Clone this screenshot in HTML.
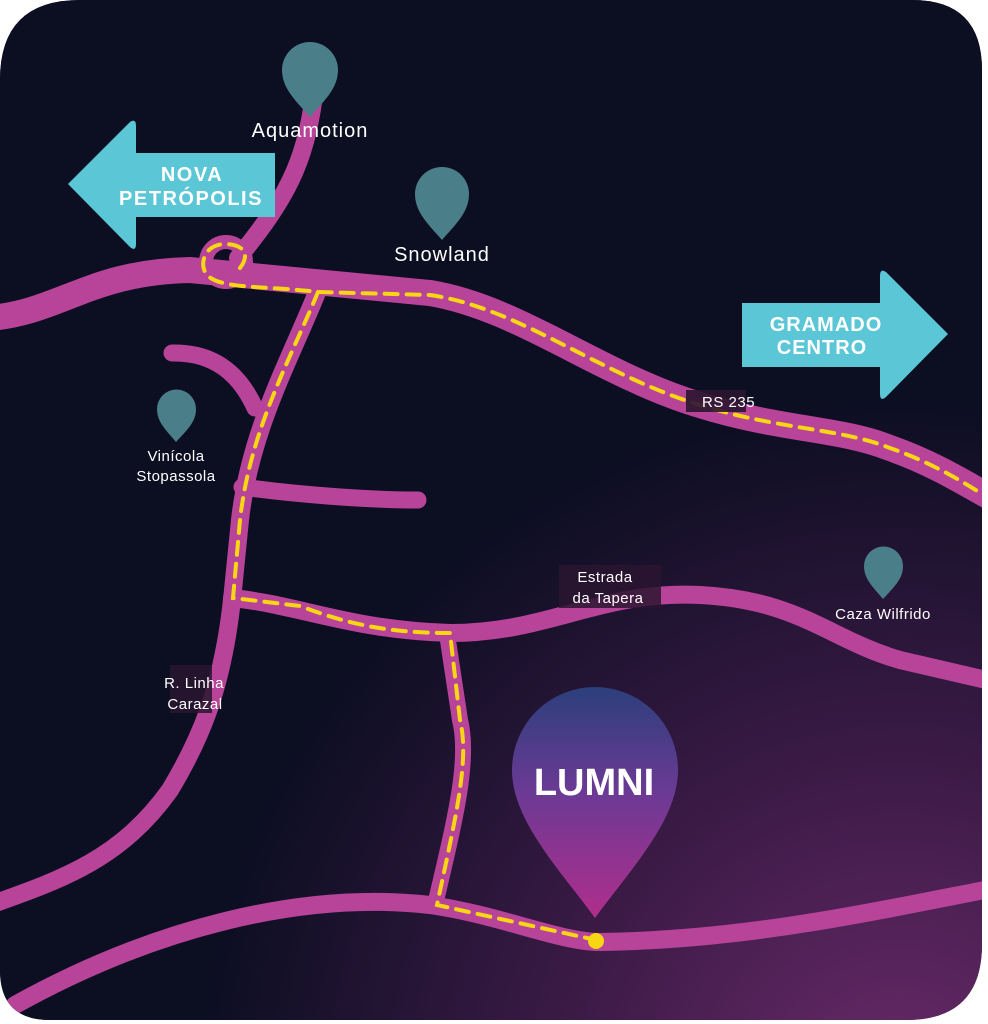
<!DOCTYPE html>
<html><head><meta charset="utf-8"><style>
html,body{margin:0;padding:0;background:#fff;}
svg{display:block;}
text{font-family:"Liberation Sans",sans-serif;}
</style></head><body>
<svg width="988" height="1024" viewBox="0 0 988 1024" xmlns="http://www.w3.org/2000/svg">
<defs>
<clipPath id="card"><path d="M80,0 H912 Q982,0 982,70 V944 Q982,1020 906,1020 H50 Q0,1020 0,970 V80 Q0,0 80,0 Z"/></clipPath>
<radialGradient id="bg" cx="900" cy="1100" r="700" gradientUnits="userSpaceOnUse">
<stop offset="0" stop-color="#6a2a6a"/><stop offset="0.5" stop-color="#3a1a45"/><stop offset="1" stop-color="#0c0e22"/>
</radialGradient>
<linearGradient id="lp" x1="0" y1="0" x2="0" y2="1">
<stop offset="0" stop-color="#2c3f7c"/><stop offset="0.45" stop-color="#6a3a94"/><stop offset="1" stop-color="#b02e8c"/>
</linearGradient>
</defs>
<g clip-path="url(#card)">
<rect width="988" height="1024" fill="#0c0e22"/>
<rect width="988" height="1024" fill="url(#bg)"/>
<g fill="none" stroke="#b8449a" stroke-linecap="round">
<path d="M-10,318 C60,312 90,272 190,270 L430,293 C520,308 600,375 700,405 C780,430 840,428 890,448 C930,462 960,480 995,500" stroke-width="26"/>
<path d="M314,95 C305,165 285,200 238,258" stroke-width="18"/>
<circle cx="226" cy="262" r="20" stroke-width="14"/>
<path d="M318,290 C290,360 250,430 240,520 L232,600 C222,690 200,740 170,790 C120,860 60,880 -10,905" stroke-width="18"/>
<path d="M172,353 C215,352 240,375 255,408" stroke-width="17"/>
<path d="M242,487 C300,495 370,500 418,500" stroke-width="17"/>
<path d="M232,598 C300,605 350,630 450,633 C550,633 600,590 700,595 C800,600 830,640 900,660 L995,682" stroke-width="18"/>
<path d="M447,634 L460,720 C470,760 455,820 435,905" stroke-width="16"/>
<path d="M15,1005 C150,930 300,890 430,905 C500,915 560,942 600,942 C750,940 880,910 995,888" stroke-width="18"/>
</g>
<g fill="none" stroke="#f7d614" stroke-width="4" stroke-dasharray="13 9" stroke-linecap="round">
<path d="M240,268 C250,255 245,245 226,244 C205,244 200,262 205,272 C215,290 260,285 318,292 L430,295 C520,308 600,375 700,405 C780,430 840,428 890,448 C930,462 960,480 982,494"/>
<path d="M318,292 C290,360 250,430 240,520 L233,598 L300,606 C350,625 390,633 450,633 L460,720 C470,760 455,820 437,905 L596,940"/>
</g>
<circle cx="596" cy="941" r="8" fill="#f7d614"/>
<rect x="686" y="390" width="60" height="22" fill="#2a1530" opacity="0.9"/>
<text x="702" y="407" fill="#fff" font-size="15" letter-spacing="0.5">RS 235</text>
<rect x="559" y="565" width="102" height="43" fill="#2a1530" opacity="0.85"/>
<text x="605" y="582" fill="#fff" font-size="15" letter-spacing="0.5" text-anchor="middle">Estrada</text>
<text x="608" y="603" fill="#fff" font-size="15" letter-spacing="0.5" text-anchor="middle">da Tapera</text>
<rect x="170" y="665" width="42" height="48" fill="#2a1530" opacity="0.85"/>
<text x="194" y="688" fill="#fff" font-size="15" letter-spacing="0.5" text-anchor="middle">R. Linha</text>
<text x="195" y="709" fill="#fff" font-size="15" letter-spacing="0.5" text-anchor="middle">Carazal</text>
<g fill="#4a7f8a">
<path d="M310,117 C295,100 282,88 282,70 A28,28 0 0 1 338,70 C338,88 325,100 310,117 Z"/>
<path d="M442,240 C428,224 415,212 415,194 A27,27 0 0 1 469,194 C469,212 456,224 442,240 Z"/>
<path d="M176,442 C166,430 157,422 157,409 A19.5,19.5 0 0 1 196,409 C196,422 187,430 176,442 Z"/>
<path d="M883,599 C873,587 864,579 864,566 A19.5,19.5 0 0 1 903,566 C903,579 894,587 883,599 Z"/>
</g>
<g fill="#fff" font-size="20" text-anchor="middle" letter-spacing="1">
<text x="310" y="137">Aquamotion</text>
<text x="442" y="261">Snowland</text>
</g>
<g fill="#fff" font-size="15" text-anchor="middle" letter-spacing="0.5">
<text x="176" y="461">Vinícola</text>
<text x="176" y="481">Stopassola</text>
<text x="883" y="619">Caza Wilfrido</text>
</g>
<path d="M68,184 L130,122 Q136,118 136,126 V153 H275 V217 H136 V244 Q136,252 130,247 Z" fill="#5bc6d6"/>
<text x="192" y="181" fill="#fff" font-size="20" font-weight="bold" text-anchor="middle" letter-spacing="1.5">NOVA</text>
<text x="191" y="205" fill="#fff" font-size="20" font-weight="bold" text-anchor="middle" letter-spacing="1.5">PETRÓPOLIS</text>
<path d="M948,334 L886,272 Q880,268 880,276 V303 H742 V367 H880 V394 Q880,402 886,397 Z" fill="#5bc6d6"/>
<text x="826" y="331" fill="#fff" font-size="20" font-weight="bold" text-anchor="middle" letter-spacing="1">GRAMADO</text>
<text x="822" y="354" fill="#fff" font-size="20" font-weight="bold" text-anchor="middle" letter-spacing="1">CENTRO</text>
<path d="M595,918 C560,870 512,820 512,770 A83,83 0 0 1 678,770 C678,820 630,870 595,918 Z" fill="url(#lp)"/>
<text x="594" y="795" fill="#fff" font-size="38" font-weight="bold" font-family="Liberation Serif,serif" text-anchor="middle">LUMNI</text>
</g>
</svg>
</body></html>
